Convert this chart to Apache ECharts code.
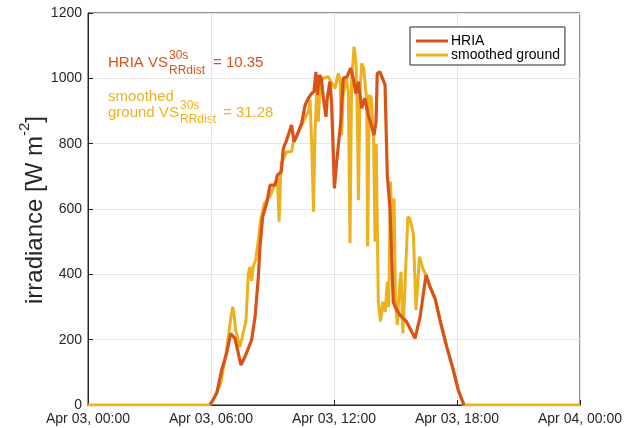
<!DOCTYPE html>
<html>
<head>
<meta charset="utf-8">
<script src="https://cdn.jsdelivr.net/npm/echarts@6/dist/echarts.min.js"></script>
<style>
html,body{margin:0;padding:0;background:#fff;}
#chart{width:626px;height:428px;}
</style>
</head>
<body>
<div id="chart"></div>
<script>
// x tick labels (axis in hours from Apr 03, 00:00)
var xTickLabels = ['Apr 03, 00:00', 'Apr 03, 06:00', 'Apr 03, 12:00', 'Apr 03, 18:00', 'Apr 04, 00:00'];

// HRIA series
var hriaHours = [5.95, 6.28, 6.52, 6.76, 6.96, 7.17, 7.46, 7.66, 7.98, 8.15, 8.31, 8.39, 8.52, 8.71, 8.88, 8.96, 9.12, 9.24, 9.43, 9.53, 9.69, 9.93, 10.05, 10.2, 10.42, 10.59, 10.75, 10.91, 11.02, 11.12, 11.19, 11.29, 11.38, 11.48, 11.61, 11.67, 11.8, 11.88, 12.02, 12.13, 12.33, 12.45, 12.64, 12.81, 12.94, 13.07, 13.19, 13.35, 13.5, 13.67, 13.82, 13.95, 14.05, 14.11, 14.24, 14.49, 14.6, 14.73, 14.89, 15.02, 15.22, 15.54, 15.79, 15.95, 16.2, 16.49, 16.68, 16.93, 17.17, 17.5, 17.82, 18.06, 18.34];
var hriaValues = [0, 36, 107, 158, 219, 204, 122, 148, 199, 270, 393, 485, 576, 617, 673, 679, 673, 704, 714, 786, 811, 857, 806, 826, 862, 918, 939, 954, 959, 1020, 949, 1010, 1000, 939, 882, 939, 990, 929, 663, 744, 867, 1000, 1005, 1031, 1000, 954, 990, 908, 939, 888, 857, 826, 867, 1015, 1020, 980, 704, 602, 316, 296, 275, 255, 224, 204, 270, 398, 362, 326, 260, 178, 107, 46, 0];

// smoothed ground series
var groundHours = [0, 5.95, 6.1, 6.47, 6.76, 6.95, 7.06, 7.12, 7.2, 7.41, 7.6, 7.71, 7.82, 7.9, 7.98, 8.06, 8.18, 8.31, 8.42, 8.6, 8.88, 9.0, 9.24, 9.32, 9.4, 9.43, 9.69, 9.93, 10.02, 10.18, 10.5, 10.75, 10.83, 10.91, 11.0, 11.07, 11.15, 11.23, 11.32, 11.45, 11.72, 11.85, 12.05, 12.21, 12.3, 12.37, 12.45, 12.6, 12.7, 12.78, 12.86, 12.98, 13.07, 13.14, 13.19, 13.27, 13.35, 13.45, 13.6, 13.64, 13.72, 13.82, 13.93, 14.0, 14.06, 14.16, 14.27, 14.38, 14.5, 14.6, 14.67, 14.76, 14.85, 14.93, 15.0, 15.09, 15.18, 15.27, 15.36, 15.45, 15.6, 15.7, 15.87, 16.0, 16.17, 16.36, 16.49, 16.68, 16.93, 17.17, 17.5, 17.82, 18.06, 18.34, 24];
var groundValues = [0, 0, 15, 66, 168, 260, 301, 280, 230, 178, 228, 260, 403, 423, 380, 423, 444, 505, 566, 617, 638, 658, 694, 561, 704, 740, 775, 775, 806, 826, 867, 898, 934, 806, 592, 830, 949, 867, 980, 1000, 1005, 990, 969, 1015, 990, 826, 949, 1000, 960, 495, 1000, 1097, 1050, 877, 627, 960, 1046, 1030, 929, 485, 949, 940, 826, 500, 800, 316, 255, 316, 285, 377, 300, 684, 469, 633, 316, 245, 350, 408, 219, 342, 576, 570, 525, 291, 454, 413, 398, 362, 326, 260, 178, 107, 46, 0, 0];

function pairs(xs, ys) { return xs.map(function (x, i) { return [x, ys[i]]; }); }

var FONT = 'Liberation Sans, Arial, Helvetica, sans-serif';
var ORANGE = '#D95319';
var YELLOW = '#EDB120';
var AX = '#262626';

var chart = echarts.init(document.getElementById('chart'), null, {renderer: 'canvas'});
chart.setOption({
  animation: false,
  backgroundColor: '#fff',
  textStyle: {fontFamily: FONT},
  grid: {left: 88, right: 46, top: 13, bottom: 23, show: true, borderColor: AX, borderWidth: 1, backgroundColor: 'transparent'},
  xAxis: {
    type: 'value', min: 0, max: 24, interval: 6,
    axisLine: {show: true, lineStyle: {color: AX, width: 1}},
    axisTick: {show: true, inside: true, length: 5, lineStyle: {color: AX}},
    splitLine: {show: true, lineStyle: {color: '#e5e5e5', width: 1}},
    axisLabel: {color: AX, fontSize: 14, fontFamily: FONT, margin: 7, formatter: function (v) { return xTickLabels[Math.round(v / 6)]; }}
  },
  yAxis: {
    type: 'value', min: 0, max: 1200, interval: 200,
    axisLine: {show: true, lineStyle: {color: AX, width: 1}},
    axisTick: {show: true, inside: true, length: 5, lineStyle: {color: AX}},
    splitLine: {show: true, lineStyle: {color: '#e5e5e5', width: 1}},
    axisLabel: {color: AX, fontSize: 14, fontFamily: FONT, margin: 6, formatter: function (v) { return String(v); }}
  },
  legend: {
    orient: 'vertical', left: 410, top: 27,
    data: ['HRIA', 'smoothed ground'],
    icon: 'rect', itemWidth: 32, itemHeight: 3, itemGap: 0,
    padding: [7, 5, 3, 6],
    borderColor: AX, borderWidth: 1, backgroundColor: '#fff',
    textStyle: {color: '#000', fontSize: 14, fontFamily: FONT, lineHeight: 14, padding: [0, 0, 0, -2]}
  },
  series: [
    {name: 'smoothed ground', type: 'line', data: pairs(groundHours, groundValues), showSymbol: false, symbol: 'none',
     lineStyle: {color: YELLOW, width: 3}, itemStyle: {color: YELLOW}, z: 2},
    {name: 'HRIA', type: 'line', data: pairs(hriaHours, hriaValues), showSymbol: false, symbol: 'none',
     lineStyle: {color: ORANGE, width: 3.2}, itemStyle: {color: ORANGE}, z: 3}
  ],
  graphic: [
    {type: 'text', x: 32, y: 210, rotation: Math.PI / 2,
     style: {text: '{a|irradiance [W m}{b|-2}{a|]}', textAlign: 'center', textVerticalAlign: 'middle', fill: AX, font: '24px ' + FONT,
       rich: {a: {fontSize: 24, fontFamily: FONT, lineHeight: 30, verticalAlign: 'bottom', fill: AX}, b: {fontSize: 15, fontFamily: FONT, lineHeight: 30, verticalAlign: 'top', fill: AX}}}},
    {type: 'text', x: 108, y: 63, style: {text: 'HRIA VS', fill: ORANGE, font: '15px ' + FONT, textVerticalAlign: 'middle'}},
    {type: 'text', x: 169, y: 55.5, style: {text: '30s', fill: ORANGE, font: '12px ' + FONT, textVerticalAlign: 'middle'}},
    {type: 'text', x: 169, y: 70.5, style: {text: 'RRdist', fill: ORANGE, font: '12px ' + FONT, textVerticalAlign: 'middle'}},
    {type: 'text', x: 213, y: 63, style: {text: '= 10.35', fill: ORANGE, font: '15px ' + FONT, textVerticalAlign: 'middle'}},
    {type: 'text', x: 108, y: 96.5, style: {text: 'smoothed', fill: YELLOW, font: '15px ' + FONT, textVerticalAlign: 'middle'}},
    {type: 'text', x: 108, y: 113, style: {text: 'ground VS', fill: YELLOW, font: '15px ' + FONT, textVerticalAlign: 'middle'}},
    {type: 'text', x: 180, y: 106, style: {text: '30s', fill: YELLOW, font: '12px ' + FONT, textVerticalAlign: 'middle'}},
    {type: 'text', x: 180, y: 119.5, style: {text: 'RRdist', fill: YELLOW, font: '12px ' + FONT, textVerticalAlign: 'middle'}},
    {type: 'text', x: 223, y: 113, style: {text: '= 31.28', fill: YELLOW, font: '15px ' + FONT, textVerticalAlign: 'middle'}}
  ]
});
</script>
</body>
</html>
